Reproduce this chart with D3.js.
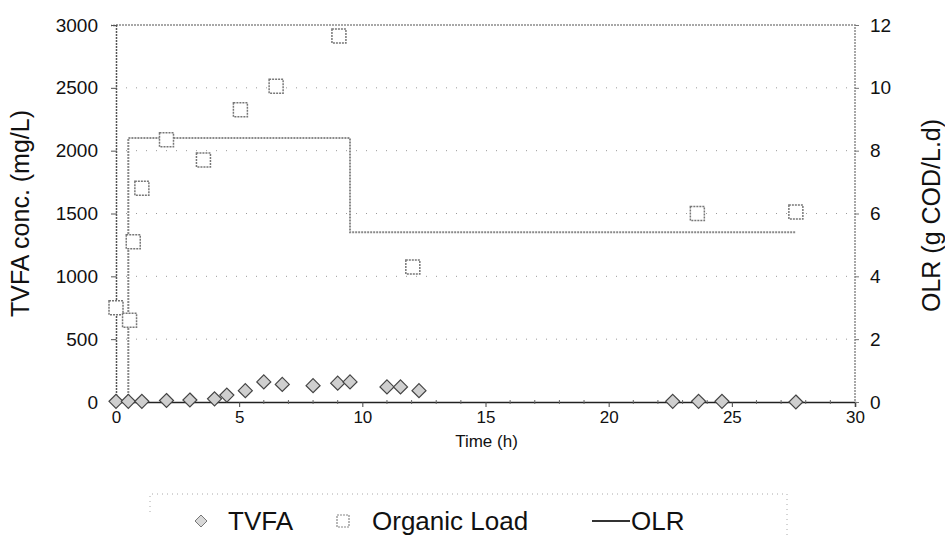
<!DOCTYPE html>
<html>
<head>
<meta charset="utf-8">
<script src="https://cdn.jsdelivr.net/npm/d3@7"></script>
<style>
  html, body { margin: 0; padding: 0; background: #fff; }
  svg { display: block; font-family: Arial, "Liberation Sans", sans-serif; }
</style>
</head>
<body>
<svg id="chart" width="945" height="537"></svg>
<script>
// ---- data ----
const tvfaTime = [0, 0.5, 1.05, 2.05, 3.0, 4.0, 4.5, 5.25, 6.0, 6.75, 8.0, 9.0, 9.5, 11.0, 11.55, 12.3, 22.6, 23.65, 24.6, 27.6];
const tvfaConc = [5, 5, 5, 12, 16, 25, 55, 90, 160, 140, 130, 150, 160, 120, 120, 90, 5, 5, 5, 0];

const loadTime  = [0, 0.55, 0.7, 1.05, 2.05, 3.55, 5.05, 6.5, 9.05, 12.05, 23.6, 27.6];
const loadValue = [3.0, 2.6, 5.1, 6.8, 8.35, 7.7, 9.3, 10.05, 11.65, 4.3, 6.0, 6.05];

const olrTime  = [0.5, 0.5, 9.5, 9.5, 27.6];
const olrValue = [0, 8.4, 8.4, 5.4, 5.4];

const xTicks      = [0, 5, 10, 15, 20, 25, 30];
const leftTicks   = [0, 500, 1000, 1500, 2000, 2500, 3000];
const rightTicks  = [0, 2, 4, 6, 8, 10, 12];
const legendNames = ["TVFA", "Organic Load", "OLR"];

// ---- layout ----
const svg = d3.select("#chart");
const L = 116, R = 855, T = 25, B = 402;

const x  = d3.scaleLinear().domain([0, 30]).range([L, R]);
const yL = d3.scaleLinear().domain([0, 3000]).range([B, T]);
const yR = d3.scaleLinear().domain([0, 12]).range([B, T]);

// gridlines
svg.append("g").selectAll("line")
  .data(leftTicks.filter(d => d > 0 && d < 3000))
  .join("line")
  .attr("x1", L).attr("x2", R)
  .attr("y1", d => yL(d)).attr("y2", d => yL(d))
  .attr("stroke", "#9a9a9a").attr("stroke-width", 1)
  .attr("stroke-dasharray", "1,9");

// frame (top & right)
svg.append("path")
  .attr("d", `M${L},${T}H${R}V${B}`)
  .attr("fill", "none").attr("stroke", "#8c8c8c").attr("stroke-width", 1.5)
  .attr("stroke-dasharray", "2,1");

// axes
const fontSize = 19;
const xAxis = d3.axisBottom(x).tickValues(xTicks).tickSize(5).tickPadding(4).tickFormat(d3.format("d"));
const gx = svg.append("g").attr("transform", `translate(0,${B})`).call(xAxis);
gx.select(".domain").attr("stroke", "#222").attr("stroke-width", 1.5);
gx.selectAll(".tick line").attr("stroke", "#444");
gx.selectAll("text").attr("font-size", 17).attr("fill", "#111");
// minor x ticks
svg.append("g").selectAll("line")
  .data(d3.range(1, 30).filter(d => d % 5 !== 0))
  .join("line")
  .attr("x1", d => x(d)).attr("x2", d => x(d))
  .attr("y1", B - 2).attr("y2", B + 2)
  .attr("stroke", "#666").attr("stroke-width", 1);

const yAxisL = d3.axisLeft(yL).tickValues(leftTicks).tickSize(5).tickPadding(13).tickFormat(d3.format("d"));
const gyl = svg.append("g").attr("transform", `translate(${L},0)`).call(yAxisL);
gyl.select(".domain").attr("stroke", "#555").attr("stroke-width", 1.5).attr("stroke-dasharray", "2,1");
gyl.selectAll(".tick line").attr("stroke", "#555");
gyl.selectAll("text").attr("font-size", fontSize).attr("fill", "#111");

const yAxisR = d3.axisRight(yR).tickValues(rightTicks).tickSize(4).tickPadding(11).tickFormat(d3.format("d"));
const gyr = svg.append("g").attr("transform", `translate(${R},0)`).call(yAxisR);
gyr.select(".domain").remove();
gyr.selectAll(".tick line").attr("stroke", "#777");
gyr.selectAll("text").attr("font-size", fontSize).attr("fill", "#111");

// axis titles
svg.append("text")
  .attr("transform", `translate(${(L + R) / 2 + 1},447) `)
  .attr("text-anchor", "middle").attr("font-size", 17).attr("fill", "#111")
  .text("Time (h)");
svg.append("text")
  .attr("transform", `translate(29,${(T + B) / 2}) rotate(-90)`)
  .attr("text-anchor", "middle").attr("font-size", 25).attr("fill", "#111")
  .text("TVFA conc. (mg/L)");
svg.append("text")
  .attr("transform", `translate(940,${(T + B) / 2 + 2}) rotate(-90)`)
  .attr("text-anchor", "middle").attr("font-size", 25).attr("fill", "#111")
  .text("OLR (g COD/L.d)");

// OLR step line
const olrLine = d3.line().x((d, i) => x(olrTime[i])).y((d, i) => yR(olrValue[i]));
svg.append("path")
  .attr("d", olrLine(olrTime))
  .attr("fill", "none").attr("stroke", "#8a8a8a").attr("stroke-width", 2)
  .attr("stroke-dasharray", "2,1");

// Organic Load squares
const sq = 14;
svg.append("g").selectAll("rect")
  .data(loadTime.map((t, i) => [t, loadValue[i]]))
  .join("rect")
  .attr("x", d => x(d[0]) - sq / 2).attr("y", d => yR(d[1]) - sq / 2)
  .attr("width", sq).attr("height", sq)
  .attr("fill", "#fff").attr("stroke", "#777").attr("stroke-width", 1.5)
  .attr("stroke-dasharray", "2,1");

// TVFA diamonds
const diamond = s => `M0,${-s}L${s},0L0,${s}L${-s},0Z`;
svg.append("g").selectAll("path")
  .data(tvfaTime.map((t, i) => [t, tvfaConc[i]]))
  .join("path")
  .attr("transform", d => `translate(${x(d[0])},${yL(d[1])})`)
  .attr("d", diamond(7))
  .attr("fill", "#cfcfcf").attr("stroke", "#444").attr("stroke-width", 1.2);

// legend
const lg = svg.append("g");
lg.append("path")
  .attr("d", "M150,512V494H787V537")
  .attr("fill", "none").attr("stroke", "#aaa").attr("stroke-width", 1)
  .attr("stroke-dasharray", "1,4");
const ly = 521;
const lf = 26;
lg.append("path").attr("transform", `translate(201,${ly})`).attr("d", diamond(6))
  .attr("fill", "#d8d8d8").attr("stroke", "#777").attr("stroke-width", 1);
lg.append("text").attr("x", 228).attr("y", ly).attr("dy", "0.36em")
  .attr("font-size", lf).attr("fill", "#111").text(legendNames[0]);
lg.append("rect").attr("x", 343 - 6).attr("y", ly - 6).attr("width", 12).attr("height", 12)
  .attr("fill", "#fff").attr("stroke", "#888").attr("stroke-width", 1.2).attr("stroke-dasharray", "2,1");
lg.append("text").attr("x", 372).attr("y", ly).attr("dy", "0.36em")
  .attr("font-size", lf).attr("fill", "#111").text(legendNames[1]);
lg.append("line").attr("x1", 592).attr("x2", 630).attr("y1", ly).attr("y2", ly)
  .attr("stroke", "#333").attr("stroke-width", 2);
lg.append("text").attr("x", 631).attr("y", ly).attr("dy", "0.36em")
  .attr("font-size", lf).attr("fill", "#111").text(legendNames[2]);
</script>
</body>
</html>
